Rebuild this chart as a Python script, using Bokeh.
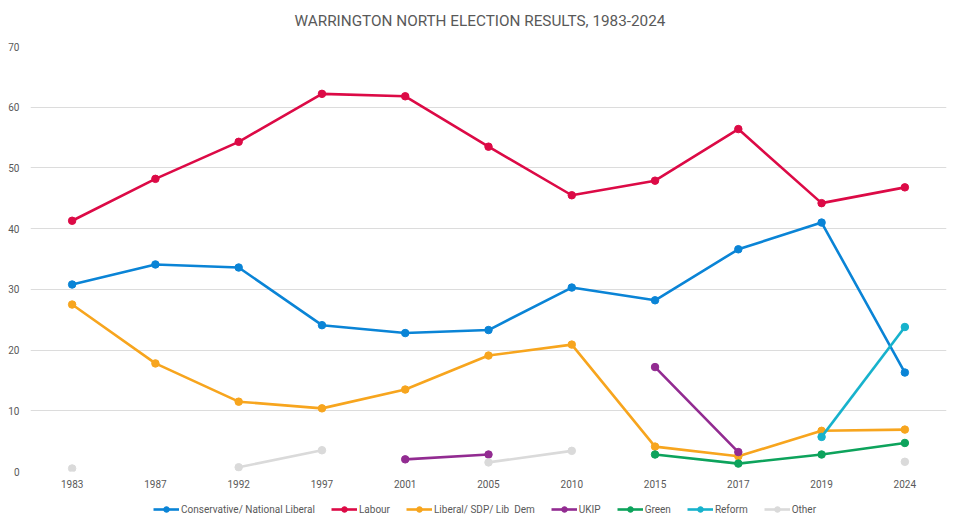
from bokeh.plotting import figure
from bokeh.models import FactorRange, Range1d, Legend, LegendItem, SingleIntervalTicker
from bokeh.layouts import column
from bokeh.embed import file_html
from bokeh.resources import INLINE

nan = float("nan")

years = ["1983", "1987", "1992", "1997", "2001", "2005", "2010", "2015", "2017", "2019", "2024"]

conservative = [30.8, 34.1, 33.6, 24.1, 22.8, 23.3, 30.3, 28.2, 36.6, 41.0, 16.3]
labour = [41.3, 48.2, 54.3, 62.2, 61.8, 53.5, 45.5, 47.9, 56.4, 44.2, 46.8]
libdem = [27.5, 17.8, 11.5, 10.4, 13.5, 19.1, 20.9, 4.1, 2.5, 6.7, 6.9]
ukip = [nan, nan, nan, nan, 2.0, 2.8, nan, 17.2, 3.2, nan, nan]
green = [nan, nan, nan, nan, nan, nan, nan, 2.8, 1.3, 2.8, 4.7]
reform = [nan, nan, nan, nan, nan, nan, nan, nan, nan, 5.7, 23.8]
other = [0.5, nan, 0.7, 3.5, nan, 1.5, 3.4, nan, nan, nan, 1.6]

series = [
    ("Conservative/ National Liberal", conservative, "#0A84D6"),
    ("Labour", labour, "#DC0A46"),
    ("Liberal/ SDP/ Lib  Dem", libdem, "#F7A51E"),
    ("UKIP", ukip, "#922B91"),
    ("Green", green, "#0DA35C"),
    ("Reform", reform, "#17B2CC"),
    ("Other", other, "#DADADA"),
]

TITLE = "WARRINGTON NORTH ELECTION RESULTS, 1983-2024"
FONT = "Roboto"
GREY = "#595959"

# title strip above the chart
top = figure(
    width=952, height=40, x_range=Range1d(0, 1), y_range=Range1d(0, 1),
    x_axis_type=None, y_axis_type=None,
    output_backend="svg", toolbar_location=None, min_border=0,
)
top.outline_line_color = None
top.xgrid.visible = False
top.ygrid.visible = False
top.title.text = TITLE
top.title.align = "left"
top.title.offset = 264
top.title.standoff = 19
top.title.text_font = FONT
top.title.text_font_style = "normal"
top.title.text_font_size = "15.3px"
top.title.text_color = GREY

p = figure(
    width=952, height=456,
    x_range=FactorRange(factors=years, range_padding=0),
    y_range=Range1d(0, 70),
    output_backend="svg", toolbar_location=None,
    min_border_left=30, min_border_right=6, min_border_top=6, min_border_bottom=25,
)
p.title.text = ""
p.title.visible = False
p.outline_line_color = None
p.background_fill_color = "white"

p.xgrid.grid_line_color = None
p.ygrid.grid_line_color = "#DCDCDC"
p.ygrid.grid_line_width = 1
p.yaxis.ticker = SingleIntervalTicker(interval=10)

for ax in (p.xaxis[0], p.yaxis[0]):
    ax.axis_line_color = None
    ax.major_tick_line_color = None
    ax.minor_tick_line_color = None
    ax.major_tick_out = 0
    ax.major_tick_in = 0
    ax.minor_tick_out = 0
    ax.major_label_text_font = FONT
    ax.major_label_text_font_size = "10px"
    ax.major_label_text_color = GREY
p.yaxis.major_label_standoff = 11
p.xaxis.major_label_standoff = 8

for name, vals, color in series:
    p.line(years, vals, line_color=color, line_width=2.6)
    p.scatter(years, vals, size=7.5, fill_color=color, line_color=color)

# legend strip below the chart (its sample renderers sit outside the visible range)
leg = figure(
    width=952, height=26, x_range=Range1d(0, 1), y_range=Range1d(0, 1),
    x_axis_type=None, y_axis_type=None,
    output_backend="svg", toolbar_location=None, min_border=0,
)
leg.outline_line_color = None
leg.xgrid.visible = False
leg.ygrid.visible = False

items = []
for name, vals, color in series:
    lr = leg.line(x=[5, 6], y=[5, 6], line_color=color, line_width=2.6)
    sr = leg.scatter(x=[5], y=[5], size=6, fill_color=color, line_color=color)
    items.append(LegendItem(label=name, renderers=[lr, sr]))

legend = Legend(
    items=items, orientation="horizontal", location=(123, 6),
    label_text_font=FONT, label_text_font_size="10px", label_text_color=GREY,
    border_line_color=None, background_fill_alpha=0,
    glyph_width=26, glyph_height=14, label_height=14, spacing=16, label_standoff=2,
    padding=2, margin=0,
)
leg.add_layout(legend, "center")

layout = column(top, p, leg)
open("out.html", "w").write(file_html(layout, INLINE))
